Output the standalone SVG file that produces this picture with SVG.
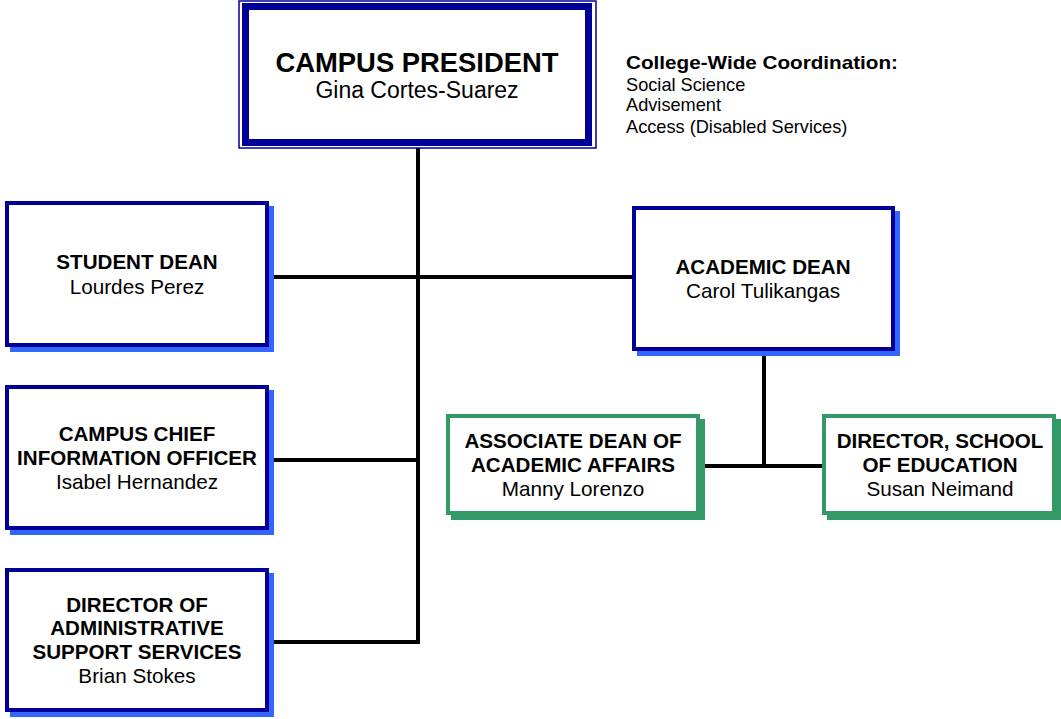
<svg xmlns="http://www.w3.org/2000/svg" width="1061" height="719" viewBox="0 0 1061 719">
<style>
.bg{fill:#ffffff}
.box{fill:#ffffff;stroke:#000099;stroke-width:4}
.shadow{fill:#3366ff}
.gbox{fill:#ffffff;stroke:#339966;stroke-width:4}
.gshadow{fill:#339966}
.conn{fill:none;stroke:#000000;stroke-width:4;stroke-linejoin:miter;stroke-linecap:butt}
text{font-family:"Liberation Sans",Arial,sans-serif;fill:#000000;text-anchor:middle}
.t{font-weight:bold;font-size:20.6px}
.n{font-size:20.7px}
.info{text-anchor:start;font-size:18.2px}
</style>
<rect class="bg" x="0" y="0" width="1061" height="719"/>
<g id="connectors">
<path class="conn" d="M269 642 H418 V146"/>
<path class="conn" d="M269 277 H632"/>
<path class="conn" d="M268 460 H418"/>
<path class="conn" d="M764 351 V466"/>
<path class="conn" d="M700 466 H824"/>
</g>
<g id="president">
<rect x="239" y="1" width="357" height="147" fill="#ffffff" stroke="#000099" stroke-width="1.5"/>
<rect x="245.5" y="6.5" width="343" height="136" fill="#ffffff" stroke="#000099" stroke-width="7"/>
<text x="417" y="72" font-weight="bold" font-size="27.4">CAMPUS PRESIDENT</text>
<text x="417" y="98" font-size="23">Gina Cortes-Suarez</text>
</g>
<g id="coordination">
<text class="info" x="626" y="69" font-weight="bold" font-size="19.5" textLength="272" lengthAdjust="spacingAndGlyphs">College-Wide Coordination:</text>
<text class="info" x="626" y="91">Social Science</text>
<text class="info" x="626" y="111">Advisement</text>
<text class="info" x="626" y="133">Access (Disabled Services)</text>
</g>
<g id="student-dean">
<rect class="shadow" x="10" y="206" width="264" height="146"/>
<rect class="box" x="7" y="203" width="260" height="142"/>
<text class="t" x="137" y="269">STUDENT DEAN</text>
<text class="n" x="137" y="294">Lourdes Perez</text>
</g>
<g id="cio">
<rect class="shadow" x="10" y="390" width="264" height="145"/>
<rect class="box" x="7" y="387" width="260" height="141"/>
<text class="t" x="137" y="441">CAMPUS CHIEF</text>
<text class="t" x="137" y="465">INFORMATION OFFICER</text>
<text class="n" x="137" y="489">Isabel Hernandez</text>
</g>
<g id="admin-director">
<rect class="shadow" x="10" y="573" width="264" height="144"/>
<rect class="box" x="7" y="570" width="260" height="140"/>
<text class="t" x="137" y="612">DIRECTOR OF</text>
<text class="t" x="137" y="635">ADMINISTRATIVE</text>
<text class="t" x="137" y="659">SUPPORT SERVICES</text>
<text class="n" x="137" y="683">Brian Stokes</text>
</g>
<g id="academic-dean">
<rect class="shadow" x="637" y="211" width="263" height="145"/>
<rect class="box" x="634" y="208" width="259" height="141"/>
<text class="t" x="763" y="274">ACADEMIC DEAN</text>
<text class="n" x="763" y="298">Carol Tulikangas</text>
</g>
<g id="associate-dean">
<rect class="gshadow" x="451" y="419" width="254" height="101"/>
<rect class="gbox" x="448" y="416" width="250" height="97"/>
<text class="t" x="573" y="448">ASSOCIATE DEAN OF</text>
<text class="t" x="573" y="472">ACADEMIC AFFAIRS</text>
<text class="n" x="573" y="496">Manny Lorenzo</text>
</g>
<g id="school-director">
<rect class="gshadow" x="827" y="419" width="234" height="101"/>
<rect class="gbox" x="824" y="416" width="230" height="97"/>
<text class="t" x="940" y="448">DIRECTOR, SCHOOL</text>
<text class="t" x="940" y="472">OF EDUCATION</text>
<text class="n" x="940" y="496">Susan Neimand</text>
</g>
</svg>
